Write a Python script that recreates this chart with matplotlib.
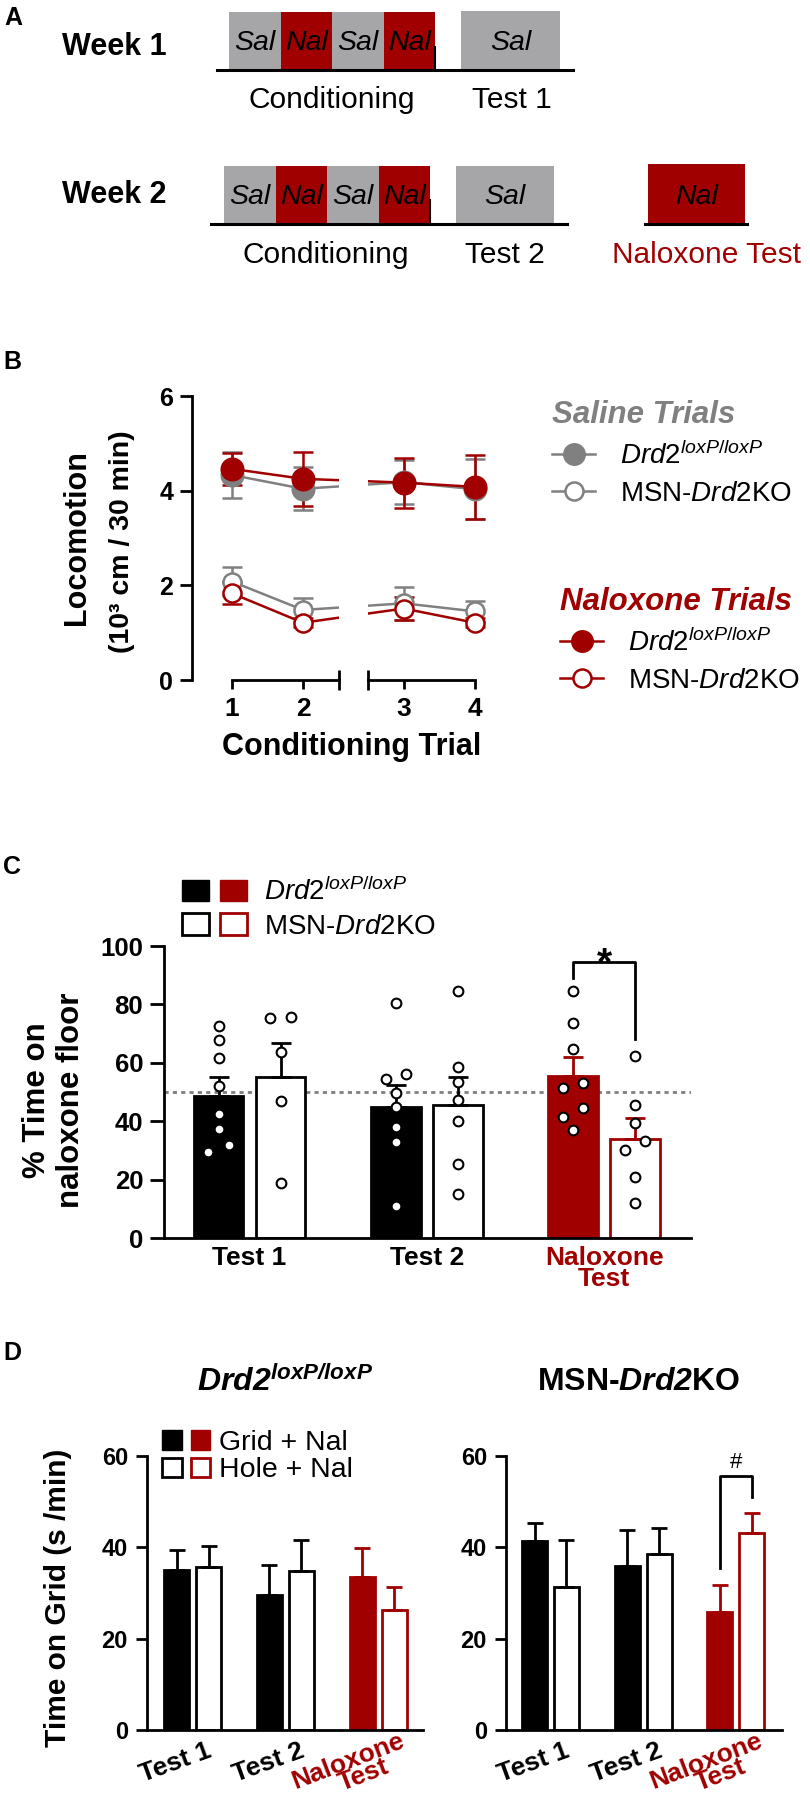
import numpy as np
import matplotlib.pyplot as plt
from matplotlib.patches import Rectangle, Patch
from matplotlib.lines import Line2D
from matplotlib.legend_handler import HandlerTuple
from matplotlib.transforms import ScaledTranslation

plt.rcParams['font.family'] = ['Liberation Sans', 'DejaVu Sans']
plt.rcParams['mathtext.fontset'] = 'custom'
plt.rcParams['mathtext.rm'] = 'Liberation Sans'
plt.rcParams['mathtext.it'] = 'Liberation Sans:italic'
plt.rcParams['mathtext.bf'] = 'Liberation Sans:bold'
plt.rcParams['mathtext.bfit'] = 'Liberation Sans:italic:bold'

RED = '#a00000'
GRAY = '#808080'
BOX_GRAY = '#a6a6a8'

FLOX = r'$\mathit{Drd2}^{\mathit{loxP/loxP}}$'
KO = r'MSN-$\mathit{Drd2}$KO'

# A: schedule
conditioning = ['Sal', 'Nal', 'Sal', 'Nal']
week1_test = ['Sal']
week2_test = ['Sal']
nal_test = ['Nal']

# B: locomotion (10^3 cm / 30 min), mean +- SEM
trials = np.array([1, 2, 3, 4])
sal_flox = [4.33, 4.04, 4.18, 4.03]
sal_flox_sem = [0.48, 0.45, 0.47, 0.63]
sal_ko = [2.08, 1.48, 1.62, 1.45]
sal_ko_sem = [0.30, 0.25, 0.35, 0.22]
nal_flox = [4.46, 4.25, 4.17, 4.08]
nal_flox_sem = [0.34, 0.57, 0.53, 0.68]
nal_ko = [1.83, 1.21, 1.51, 1.21]
nal_ko_sem = [0.23, 0.10, 0.25, 0.10]

# C: % time on naloxone floor
c_groups = ['Test 1', 'Test 2', 'Naloxone\nTest']
c_flox_mean = [48.7, 45.0, 55.5]
c_flox_sem = [6.6, 7.5, 6.6]
c_ko_mean = [55.3, 45.4, 33.9]
c_ko_sem = [11.6, 9.7, 7.2]
c_flox_pts = [[72.7, 67.8, 61.6, 51.9, 42.5, 37.3, 31.8, 29.6],
              [80.5, 54.5, 56.0, 49.5, 45.0, 38.0, 33.0, 11.0],
              [84.7, 73.6, 64.6, 51.4, 53.2, 44.5, 41.3, 37.1]]
c_flox_jit = [[0, 0, 0, 0, 0, 0, 1, -1],
              [0, -1, 1, 0, 0, 0, 0, 0],
              [0, 0, 0, -1, 1, 1, -1, 0]]
c_ko_pts = [[75.5, 75.8, 63.6, 46.8, 19.0],
            [84.7, 58.5, 53.4, 47.4, 40.2, 25.3, 15.2],
            [62.5, 45.4, 39.3, 33.2, 30.1, 21.0, 12.1]]
c_ko_jit = [[-1, 1, 0, 0, 0],
            [0, 0, 0, 0, 0, 0, 0],
            [0, 0, 0, 1, -1, 0, 0]]

# D: time on grid (s/min)
d_groups = ['Test 1', 'Test 2', 'Naloxone\nTest']
grid_flox = [35.0, 29.6, 33.6]
grid_flox_sem = [4.4, 6.5, 6.2]
hole_flox = [35.6, 34.9, 26.3]
hole_flox_sem = [4.7, 6.6, 5.1]
grid_ko = [41.4, 36.0, 25.8]
grid_ko_sem = [4.0, 7.8, 6.0]
hole_ko = [31.4, 38.5, 43.1]
hole_ko_sem = [10.1, 5.7, 4.5]

W, H = 810, 1800
fig = plt.figure(figsize=(W / 100, H / 100), dpi=100)


def px_axes(left, top, right, bottom):
    return fig.add_axes([left / W, 1 - bottom / H, (right - left) / W, (bottom - top) / H])


def fxy(x, y):
    return x / W, 1 - y / H


def ftext(x, y, s, **kw):
    kw.setdefault('ha', 'center')
    kw.setdefault('va', 'center')
    fig.text(x / W, 1 - y / H, s, **kw)


# ---------------- A ----------------
ax = px_axes(0, 0, W, 300)
ax.set_xlim(0, W)
ax.set_ylim(300, 0)
ax.axis('off')


def sessions(x0, top, bottom, width, names):
    for i, name in enumerate(names):
        ax.add_patch(Rectangle((x0 + i * width, top), width, bottom - top,
                               facecolor=RED if name == 'Nal' else BOX_GRAY, edgecolor='none'))
        ax.text(x0 + (i + 0.5) * width, (top + bottom) / 2 + 3, name, style='italic',
                fontsize=20.5, ha='center', va='center')


sessions(229, 12, 69, 51.5, conditioning)
sessions(461, 11, 69, 99, week1_test)
ax.plot([217, 573], [70, 70], color='black', lw=2.2)
ax.plot([435, 435], [47, 70], color='black', lw=1.5)
sessions(224, 166, 223, 51.5, conditioning)
sessions(456, 166, 223, 98, week2_test)
sessions(648, 164, 223, 97, nal_test)
ax.plot([211, 567], [224, 224], color='black', lw=2.2)
ax.plot([430, 430], [200, 224], color='black', lw=1.5)
ax.plot([645, 747], [224, 224], color='black', lw=2.2)

ftext(13, 18, 'A', fontsize=18, fontweight='bold')
ftext(62, 47, 'Week 1', ha='left', fontsize=22, fontweight='bold')
ftext(62, 195, 'Week 2', ha='left', fontsize=22, fontweight='bold')
ftext(332, 100, 'Conditioning', fontsize=21.5)
ftext(512, 100, 'Test 1', fontsize=21.5)
ftext(326, 255, 'Conditioning', fontsize=21.5)
ftext(505, 255, 'Test 2', fontsize=21.5)
ftext(707, 255, 'Naloxone Test', fontsize=21.5, color=RED)

# ---------------- B ----------------
unit = 71
xpos = trials + np.where(trials > 2, 0.42, 0)
brk1 = 2 + 36 / unit
brk2 = 1 + (368 - 232) / unit
axb1 = px_axes(192, 396, 339, 680)
axb2 = px_axes(368, 396, 490, 680)
axb1.set_xlim(1 - 40 / unit, brk1)
axb2.set_xlim(brk2, 1 + (490 - 232) / unit)

series = [(sal_flox, sal_flox_sem, GRAY, True), (sal_ko, sal_ko_sem, GRAY, False),
          (nal_flox, nal_flox_sem, RED, True), (nal_ko, nal_ko_sem, RED, False)]
for a in (axb1, axb2):
    for mean, sem, col, filled in series:
        a.errorbar(xpos, mean, yerr=sem, color=col, lw=1.8, marker='o',
                   ms=15.5 if filled else 13, mfc=col if filled else 'white', mec=col,
                   mew=1.8, capsize=7, capthick=1.8, elinewidth=1.8)
    a.set_ylim(0, 6)
    a.spines[['top', 'right']].set_visible(False)
    for s in a.spines.values():
        s.set_linewidth(2)
    a.tick_params(axis='x', which='major', length=6.5, width=2, pad=6)
    a.tick_params(axis='x', which='minor', direction='inout', length=14, width=2)

axb1.spines['left'].set_bounds(0, 6)
axb1.spines['bottom'].set_bounds(1, brk1)
axb1.set_yticks([0, 2, 4, 6], ['0', '2', '4', '6'], fontweight='bold', fontsize=18)
axb1.tick_params(axis='y', length=8.6, width=2, pad=5)
axb1.set_xticks(xpos[:2], [str(t) for t in trials[:2]], fontweight='bold', fontsize=19)
axb1.set_xticks([brk1], minor=True)
axb2.spines['left'].set_visible(False)
axb2.spines['bottom'].set_bounds(brk2, xpos[-1])
axb2.set_yticks([])
axb2.set_xticks(xpos[2:], [str(t) for t in trials[2:]], fontweight='bold', fontsize=19)
axb2.set_xticks([brk2], minor=True)

ftext(12, 362, 'B', fontsize=18, fontweight='bold')
ftext(77, 538, 'Locomotion', rotation=90, fontsize=22, fontweight='bold')
ftext(122, 542, '(10³ cm / 30 min)', rotation=90, fontsize=20.5, fontweight='bold')
ftext(352, 747, 'Conditioning Trial', fontsize=22, fontweight='bold')

for title, col, anchor in [('Saline Trials', GRAY, (552, 400)), ('Naloxone Trials', RED, (560, 587))]:
    hs = [Line2D([], [], color=col, lw=1.8, marker='o', ms=15.5, mfc=col, mec=col),
          Line2D([], [], color=col, lw=1.8, marker='o', ms=13, mfc='white', mec=col, mew=1.8)]
    leg = fig.legend(hs, [FLOX, KO], title=title, loc='upper left', bbox_to_anchor=fxy(*anchor),
                     frameon=False, fontsize=20, alignment='left',
                     title_fontproperties={'weight': 'bold', 'style': 'italic', 'size': 22.5},
                     handlelength=1.55, handletextpad=0.9, labelspacing=0.4,
                     borderpad=0, borderaxespad=0)
    leg.get_title().set_color(col)

# ---------------- C ----------------
axc = px_axes(164, 946, 691, 1238)
x = np.arange(len(c_groups))
bw, off, step = 0.28, 0.175, 0.058
cols = ['black', 'black', RED]
axc.axhline(50, color='#7f7f7f', lw=2, ls=(0, (1.5, 1.5)), zorder=1)
axc.bar(x - off, c_flox_mean, bw, color=cols, edgecolor=cols, lw=2, zorder=2)
axc.bar(x + off, c_ko_mean, bw, color='white', edgecolor=cols, lw=2, zorder=2)
for i in range(len(x)):
    axc.errorbar(x[i] - off, c_flox_mean[i], yerr=[[0], [c_flox_sem[i]]], fmt='none',
                 ecolor=cols[i], elinewidth=2, capsize=7, capthick=2, zorder=3)
    axc.errorbar(x[i] + off, c_ko_mean[i], yerr=[[0], [c_ko_sem[i]]], fmt='none',
                 ecolor=cols[i], elinewidth=2, capsize=7, capthick=2, zorder=3)
    axc.plot(x[i] - off + step * np.array(c_flox_jit[i]), c_flox_pts[i], 'o', ms=7,
             mfc='white', mec='black', mew=1.5, zorder=4)
    axc.plot(x[i] + off + step * np.array(c_ko_jit[i]), c_ko_pts[i], 'o', ms=7,
             mfc='white', mec='black', mew=1.5, zorder=4)
axc.set_xlim(-0.483, 2.49)
axc.set_ylim(0, 100)
axc.spines[['top', 'right']].set_visible(False)
for s in axc.spines.values():
    s.set_linewidth(2)
axc.set_yticks(range(0, 101, 20), [str(v) for v in range(0, 101, 20)], fontweight='bold', fontsize=18.5)
axc.tick_params(axis='y', length=10, width=2, pad=5)
axc.set_xticks(x, c_groups, fontweight='bold', fontsize=19)
axc.tick_params(axis='x', length=0, pad=6)
axc.get_xticklabels()[2].set_color(RED)
axc.get_xticklabels()[2].set_linespacing(0.85)
xl, xr = x[2] - off, x[2] + off
axc.plot([xl, xl, xr, xr], [89, 94.5, 94.5, 68], color='black', lw=2, clip_on=False)
axc.text(x[2], 90.4, '*', fontsize=28, fontweight='bold', ha='center', va='baseline')

ftext(12, 867, 'C', fontsize=18, fontweight='bold')
ftext(54, 1100, '% Time on\nnaloxone floor', rotation=90, fontsize=22.5, fontweight='bold',
      linespacing=1.15)
fig.legend([(Patch(fc='black', ec='black'), Patch(fc=RED, ec=RED)),
            (Patch(fc='white', ec='black', lw=2), Patch(fc='white', ec=RED, lw=2))],
           [FLOX, KO], handler_map={tuple: HandlerTuple(ndivide=None, pad=0.4)},
           loc='upper left', bbox_to_anchor=fxy(182, 878), frameon=False, fontsize=20,
           handlelength=2.35, handleheight=0.8, handletextpad=0.6, labelspacing=0.25,
           borderpad=0, borderaxespad=0)

# ---------------- D ----------------
# pixel offsets of each label line's centre from (group centre, x axis)
d_line_offsets = [[(-17, 33)], [(-17, 33)], [(-30, 31), (-15, 45)]]


def grid_panel(a, grid, grid_sem, hole, hole_sem, xlim):
    xd = np.arange(len(d_groups))
    dbw, doff = 0.27, 0.172
    a.bar(xd - doff, grid, dbw, color=cols, edgecolor=cols, lw=2, zorder=2)
    a.bar(xd + doff, hole, dbw, color='white', edgecolor=cols, lw=2, zorder=2)
    for i in range(len(xd)):
        a.errorbar(xd[i] - doff, grid[i], yerr=[[0], [grid_sem[i]]], fmt='none',
                   ecolor=cols[i], elinewidth=2, capsize=6, capthick=2, zorder=3)
        a.errorbar(xd[i] + doff, hole[i], yerr=[[0], [hole_sem[i]]], fmt='none',
                   ecolor=cols[i], elinewidth=2, capsize=6, capthick=2, zorder=3)
    a.set_xlim(*xlim)
    a.set_ylim(0, 60)
    a.spines[['top', 'right']].set_visible(False)
    for s in a.spines.values():
        s.set_linewidth(2)
    a.set_yticks([0, 20, 40, 60], ['0', '20', '40', '60'], fontweight='bold', fontsize=17)
    a.tick_params(axis='y', length=7.7, width=2, pad=6)
    a.set_xticks(xd, [])
    a.tick_params(axis='x', length=0)
    for i, label in enumerate(d_groups):
        for line, (dx, dy) in zip(label.split('\n'), d_line_offsets[i]):
            tr = a.get_xaxis_transform() + ScaledTranslation(dx / 100, -dy / 100, fig.dpi_scale_trans)
            a.text(xd[i], 0, line, transform=tr, rotation=20 if i < 2 else 21,
                   rotation_mode='anchor', ha='center', va='center', fontsize=19,
                   fontweight='bold', color=cols[i])
    return xd, doff


axdl = px_axes(147, 1456, 423, 1730)
axdr = px_axes(506, 1456, 782, 1730)
grid_panel(axdl, grid_flox, grid_flox_sem, hole_flox, hole_flox_sem, (-0.49, 2.48))
xd, doff = grid_panel(axdr, grid_ko, grid_ko_sem, hole_ko, hole_ko_sem, (-0.48, 2.5))
axdr.plot([xd[2] - doff, xd[2] - doff, xd[2] + doff, xd[2] + doff], [35.4, 55.7, 55.7, 51.0],
          color='black', lw=2, clip_on=False)
axdr.text(xd[2], 57.4, '#', fontsize=16, ha='center', va='baseline')

ftext(12, 1353, 'D', fontsize=18, fontweight='bold')
ftext(285, 1382, r'$\mathbfit{Drd2}^{\mathbfit{loxP/loxP}}$', fontsize=23)
ftext(639, 1382, r'MSN-$\mathbfit{Drd2}$KO', fontsize=23, fontweight='bold')
ftext(58, 1598, 'Time on Grid (s /min)', rotation=90, fontsize=21.5, fontweight='bold')
fig.legend([(Patch(fc='black', ec='black'), Patch(fc=RED, ec=RED)),
            (Patch(fc='white', ec='black', lw=2), Patch(fc='white', ec=RED, lw=2))],
           ['Grid + Nal', 'Hole + Nal'], handler_map={tuple: HandlerTuple(ndivide=None, pad=0.32)},
           loc='upper left', bbox_to_anchor=fxy(162, 1430), frameon=False, fontsize=20.5,
           handlelength=1.69, handleheight=0.68, handletextpad=0.32, labelspacing=0.05,
           borderpad=0, borderaxespad=0)

fig.savefig('out.png', dpi=100, facecolor='white')
